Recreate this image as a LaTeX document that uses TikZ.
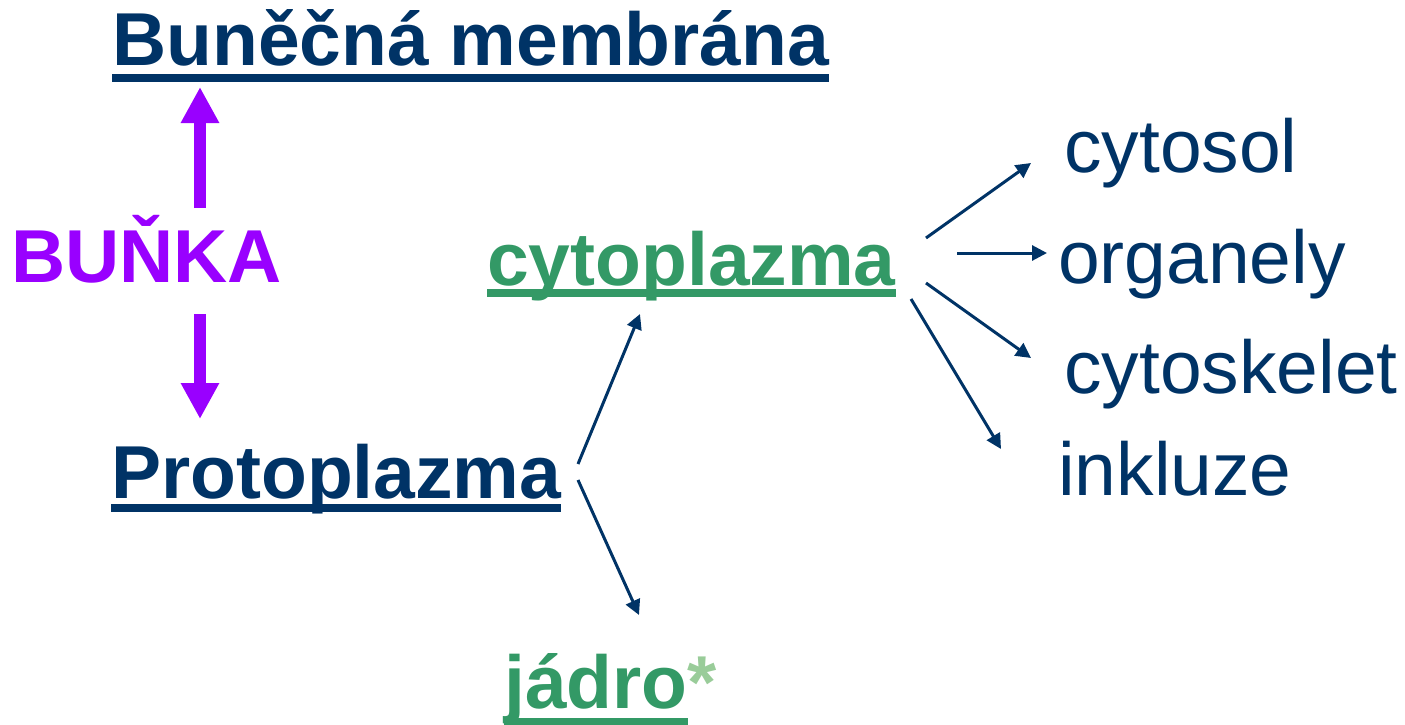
\documentclass[tikz,border=0pt]{standalone}
\usepackage{fontspec}
\setmainfont{Liberation Sans}
\usetikzlibrary{arrows.meta}
\definecolor{navy}{RGB}{0,51,102}
\definecolor{violet}{RGB}{153,0,255}
\definecolor{dgreen}{RGB}{51,153,102}
\definecolor{lgreen}{RGB}{153,204,153}
\begin{document}
\begin{tikzpicture}[x=1pt,y=-1pt,
  big/.style={inner sep=0pt,anchor=base west,font=\fontsize{75}{80}\selectfont\bfseries},
  item/.style={inner sep=0pt,anchor=base west,font=\fontsize{75}{80}\selectfont,text=navy},
  ul/.style={line width=7.5pt},
  fat/.style={violet,line width=12pt,-{Triangle[length=36pt,width=36pt]}},
  thin/.style={navy,line width=3pt,-{Triangle[length=15pt,width=15pt]}}]
\useasboundingbox (0,0) rectangle (1405,725);
% texts
\node[big,text=navy] (mem) at (112,66) {Buněčná membrána};
\node[big,text=violet] (bunka) at (11,282) {BUŇKA};
\node[big,text=navy] (proto) at (111,498) {Protoplazma};
\node[big,text=dgreen] (cyto) at (487,285) {cytoplazma};
\node[big,text=dgreen] (jadro) at (504,708) {jádro};
\node[big,text=lgreen,anchor=base west] (star) at (jadro.base east) {*};
\node[item] (cytosol) at (1064,172) {cytosol};
\node[item] (organ) at (1058,283) {organely};
\node[item] (skel) at (1064,393) {cytoskelet};
\node[item] (inkl) at (1058,495) {inkluze};
% underlines
\draw[ul,navy] ([yshift=-12pt]mem.base west) -- ([yshift=-12pt]mem.base east);
\draw[ul,navy] ([yshift=-10pt]proto.base west) -- ([yshift=-10pt]proto.base east);
\draw[ul,dgreen] ([yshift=-8pt]cyto.base west) -- ([yshift=-8pt]cyto.base east);
\draw[ul,dgreen] ([yshift=-14pt]jadro.base west) -- ([yshift=-14pt]jadro.base east);
% purple arrows
\coordinate (u0) at (200,208); \coordinate (u1) at (200,87);
\coordinate (d0) at (200,314); \coordinate (d1) at (200,419);
\draw[fat] (u0) -- (u1);
\draw[fat] (d0) -- (d1);
% protoplazma arrows
\coordinate (p0) at (578,464); \coordinate (p1) at (640,314);
\coordinate (p2) at (578,480); \coordinate (p3) at (639,615);
\draw[thin] (p0) -- (p1);
\draw[thin] (p2) -- (p3);
% cytoplazma arrows
\coordinate (c0) at (926,238); \coordinate (c1) at (1031,163);
\coordinate (c2) at (957,253); \coordinate (c3) at (1047,253);
\coordinate (c4) at (926,283); \coordinate (c5) at (1031,358);
\coordinate (c6) at (911,299); \coordinate (c7) at (1001,449);
\draw[thin] (c0) -- (c1);
\draw[thin] (c2) -- (c3);
\draw[thin] (c4) -- (c5);
\draw[thin] (c6) -- (c7);
\end{tikzpicture}
\end{document}
